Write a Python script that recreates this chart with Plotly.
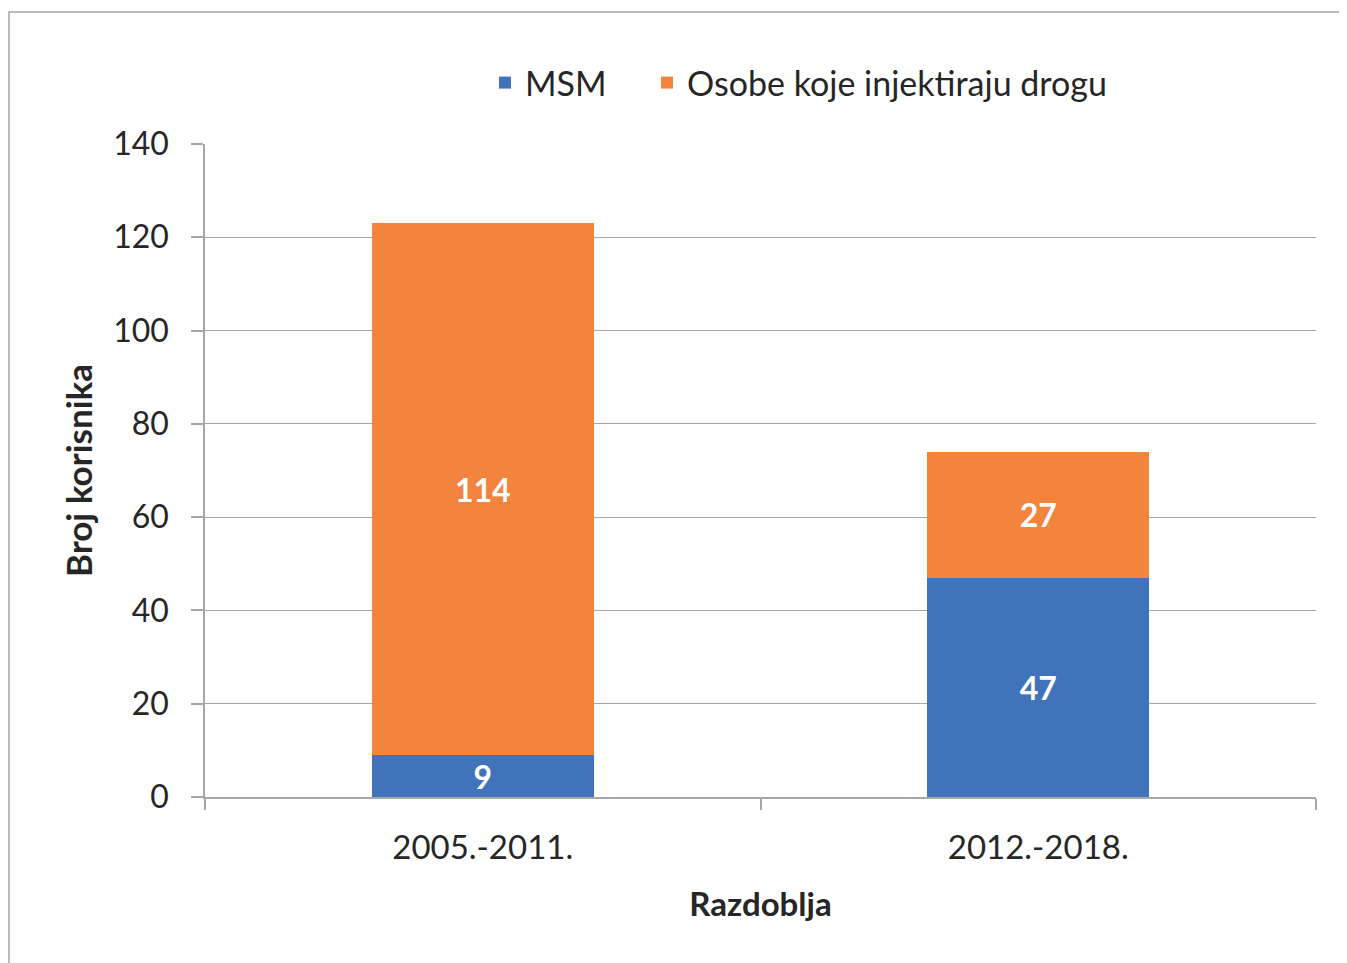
import plotly.graph_objects as go

categories = ["2005.-2011.", "2012.-2018."]
msm = [9, 47]
idu = [114, 27]
series_names = ["MSM", "Osobe koje injektiraju drogu"]
y_ticks = [0, 20, 40, 60, 80, 100, 120, 140]

BLUE = "#4173BB"
ORANGE = "#F3843D"
FONT = "Lato, 'Open Sans', sans-serif"
GRID = "#A6A6A6"
TXT = "#262626"

W, H = 1339, 955
L, R, T, B = 197, 31, 136, H - 789
PW, PH = W - L - R, H - T - B

fig = go.Figure()
for vals, name, col, lg in [(msm, series_names[0], BLUE, "legend"),
                            (idu, series_names[1], ORANGE, "legend2")]:
    fig.add_trace(go.Bar(
        x=categories, y=vals, name=name, marker=dict(color=col, line=dict(width=0)),
        text=[str(v) for v in vals], textposition="inside", insidetextanchor="middle",
        textangle=0, constraintext="none", legend=lg, showlegend=True,
        textfont=dict(color="white", size=32, family=FONT, weight="bold"),
    ))

leg_common = dict(orientation="h", xanchor="left", y=(789 - 75) / PH, yanchor="middle",
                  font=dict(size=34, color=TXT), itemwidth=30, visible=True,
                  bgcolor="rgba(0,0,0,0)")

fig.update_layout(
    showlegend=True,
    barmode="stack",
    bargap=0.6,
    width=W, height=H,
    margin=dict(l=L, r=R, t=T, b=B, autoexpand=False),
    paper_bgcolor="white", plot_bgcolor="white",
    font=dict(family=FONT, color=TXT, size=32),
    legend=dict(x=(477 - L) / PW, **leg_common),
    legend2=dict(x=(639 - L) / PW, **leg_common),
    xaxis=dict(
        title=dict(text="<b>Razdoblja</b>", font=dict(size=33, color=TXT), standoff=28),
        showline=True, linecolor=GRID, linewidth=1.5,
        ticks="outside", tickson="boundaries", ticklen=11, tickcolor=GRID, tickwidth=1.5,
        tickfont=dict(size=33, color=TXT), ticklabelstandoff=21,
        showgrid=False,
    ),
    yaxis=dict(
        title=dict(text="<b>Broj korisnika</b>", font=dict(size=35, color=TXT), standoff=10),
        range=[0, 140], tickvals=y_ticks, ticktext=[str(v) for v in y_ticks],
        showline=True, linecolor=GRID, linewidth=1.5,
        ticks="outside", ticklen=12, tickcolor=GRID, tickwidth=1.5,
        tickfont=dict(size=32, color=TXT), ticklabelstandoff=16,
        showgrid=True, gridcolor=GRID, gridwidth=1.2,
        zeroline=False,
    ),
    shapes=[dict(type="rect", xref="paper", yref="paper",
                 x0=(1 - L) / PW, x1=(W + 20 - L) / PW,
                 y0=-(H + 20 - 789) / PH, y1=(789 - 4) / PH,
                 line=dict(color=GRID, width=1.5), fillcolor="rgba(0,0,0,0)", layer="below")],
)

fig.write_html("out.html")
